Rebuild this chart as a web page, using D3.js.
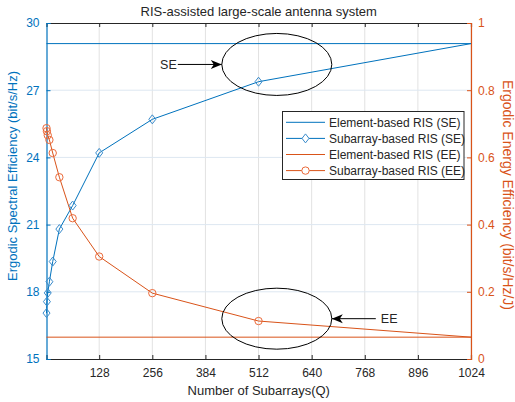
<!DOCTYPE html>
<html>
<head>
<meta charset="utf-8">
<script src="https://cdn.jsdelivr.net/npm/d3@7"></script>
<style>
  body { margin: 0; background: #fff; }
  svg text { font-family: "Liberation Sans", Arial, Helvetica, sans-serif; }
</style>
</head>
<body>
<div id="chart"></div>
<script>
// data
const subarrays = [1, 2, 4, 8, 16, 32, 64, 128, 256, 512, 1024];
const seSubarray = [17.05, 17.56, 17.95, 18.45, 19.35, 20.8, 21.85, 24.2, 25.7, 27.38, 29.08];
const eeSubarray = [0.687, 0.678, 0.666, 0.652, 0.613, 0.541, 0.419, 0.305, 0.196, 0.113, 0.065];
const elementQ = [1, 1024];
const seElement = [29.08, 29.08];
const eeElement = [0.065, 0.065];
const xTicks = [128, 256, 384, 512, 640, 768, 896, 1024];
const seTicks = [15, 18, 21, 24, 27, 30];
const eeTicks = [0, 0.2, 0.4, 0.6, 0.8, 1];

const width = 515, height = 402;
const margin = { top: 23, right: 44, bottom: 43, left: 46.5 };
const blue = '#0072BD', orange = '#D95319', dark = '#262626';

const svg = d3.select('#chart').append('svg')
    .attr('width', width)
    .attr('height', height);

const x = d3.scaleLinear().domain([1, 1024]).range([margin.left, width - margin.right]);
const yL = d3.scaleLinear().domain([15, 30]).range([height - margin.bottom, margin.top]);
const yR = d3.scaleLinear().domain([0, 1]).range([height - margin.bottom, margin.top]);

const x0 = margin.left, x1 = width - margin.right;
const y0 = height - margin.bottom, y1 = margin.top;

// grid
svg.append('g').selectAll('line').data(xTicks).enter().append('line')
    .attr('x1', d => x(d)).attr('x2', d => x(d))
    .attr('y1', y0).attr('y2', y1)
    .attr('stroke', '#e2e2e2').attr('stroke-width', 1);
svg.append('g').selectAll('line').data(seTicks.slice(1, -1)).enter().append('line')
    .attr('x1', x0).attr('x2', x1)
    .attr('y1', d => yL(d)).attr('y2', d => yL(d))
    .attr('stroke', '#dde7f1').attr('stroke-width', 1);

// axes
const xAxis = d3.axisBottom(x).tickValues(xTicks).tickSize(-4).tickPadding(9).tickFormat(d3.format('d'));
const xTop = d3.axisTop(x).tickValues(xTicks).tickSize(-4).tickFormat('');
const leftAxis = d3.axisLeft(yL).tickValues(seTicks).tickSize(-4).tickPadding(7);
const rightAxis = d3.axisRight(yR).tickValues(eeTicks).tickSize(-4).tickPadding(7)
    .tickFormat(d => d === 0 || d === 1 ? d3.format('d')(d) : d3.format('.1f')(d));

function styleAxis(g, color) {
    g.select('.domain').attr('stroke', color);
    g.selectAll('.tick line').attr('stroke', color);
    g.selectAll('.tick text').attr('fill', color).style('font-size', '12px');
}

svg.append('g').attr('transform', `translate(0,${y0})`).call(xAxis).call(g => styleAxis(g, dark));
svg.append('g').attr('transform', `translate(0,${y1})`).call(xTop).call(g => styleAxis(g, dark));
svg.append('g').attr('transform', `translate(${x0},0)`).call(leftAxis).call(g => styleAxis(g, blue));
svg.append('g').attr('transform', `translate(${x1},0)`).call(rightAxis).call(g => styleAxis(g, orange));
svg.selectAll('.domain').attr('stroke-width', 1.2);

// lines
const seLine = d3.line().x(d => x(d[0])).y(d => yL(d[1]));
const eeLine = d3.line().x(d => x(d[0])).y(d => yR(d[1]));

svg.append('path').datum(d3.zip(elementQ, seElement)).attr('d', seLine)
    .attr('fill', 'none').attr('stroke', blue).attr('stroke-width', 1);
svg.append('path').datum(d3.zip(subarrays, seSubarray)).attr('d', seLine)
    .attr('fill', 'none').attr('stroke', blue).attr('stroke-width', 1);
svg.append('path').datum(d3.zip(elementQ, eeElement)).attr('d', eeLine)
    .attr('fill', 'none').attr('stroke', orange).attr('stroke-width', 1);
svg.append('path').datum(d3.zip(subarrays, eeSubarray)).attr('d', eeLine)
    .attr('fill', 'none').attr('stroke', orange).attr('stroke-width', 1);

// markers (last point sits on the element-based line, drawn without marker)
const diamond = 'M0,-4.5L3.5,0L0,4.5L-3.5,0Z';
svg.append('g').selectAll('path').data(d3.zip(subarrays, seSubarray).slice(0, -1)).enter().append('path')
    .attr('d', diamond)
    .attr('transform', d => `translate(${x(d[0])},${yL(d[1])})`)
    .attr('fill', 'none').attr('stroke', '#3a8ccc').attr('stroke-width', 1);
svg.append('g').selectAll('circle').data(d3.zip(subarrays, eeSubarray).slice(0, -1)).enter().append('circle')
    .attr('cx', d => x(d[0])).attr('cy', d => yR(d[1])).attr('r', 3.7)
    .attr('fill', 'none').attr('stroke', '#eb6a3a').attr('stroke-width', 1);

// annotations
const arrowHead = 'M0,0L-11,-4.5L-8,0L-11,4.5Z';
function annotate(cq, cy, rx, ry, label, side) {
    svg.append('ellipse')
        .attr('cx', x(cq)).attr('cy', cy).attr('rx', rx).attr('ry', ry)
        .attr('fill', 'none').attr('stroke', '#000').attr('stroke-width', 1);
    const tip = side === 'left' ? x(cq) - rx : x(cq) + rx;
    const tail = side === 'left' ? tip - 44 : tip + 44;
    svg.append('line').attr('x1', tail).attr('x2', tip).attr('y1', cy).attr('y2', cy)
        .attr('stroke', '#000').attr('stroke-width', 1);
    svg.append('path').attr('d', arrowHead)
        .attr('transform', `translate(${tip},${cy}) rotate(${side === 'left' ? 0 : 180})`)
        .attr('fill', '#000');
    svg.append('text')
        .attr('x', side === 'left' ? tail - 1 : tail + 5).attr('y', cy + 4.5)
        .attr('text-anchor', side === 'left' ? 'end' : 'start')
        .style('font-size', '12.5px').attr('fill', dark)
        .text(label);
}
annotate(556, yL(28.15), 55, 31, 'SE', 'left');
annotate(556, yR(0.12), 55, 30.5, 'EE', 'right');

// legend
const legendItems = [
    { label: 'Element-based RIS (SE)', color: blue, marker: null },
    { label: 'Subarray-based RIS (SE)', color: blue, marker: 'diamond' },
    { label: 'Element-based RIS (EE)', color: orange, marker: null },
    { label: 'Subarray-based RIS (EE)', color: orange, marker: 'circle' }
];
const legend = svg.append('g').attr('transform', 'translate(282.5,111.5)');
legend.append('rect').attr('width', 181.5).attr('height', 68)
    .attr('fill', '#fff').attr('stroke', dark).attr('stroke-width', 1);
const rows = legend.selectAll('g').data(legendItems).enter().append('g')
    .attr('transform', (d, i) => `translate(0,${10.8 + i * 16.1})`);
rows.append('line').attr('x1', 3.5).attr('x2', 42.5)
    .attr('stroke', d => d.color).attr('stroke-width', 1);
rows.filter(d => d.marker === 'diamond').append('path').attr('d', diamond)
    .attr('transform', 'translate(23,0)').attr('fill', '#fff').attr('stroke', '#3a8ccc');
rows.filter(d => d.marker === 'circle').append('circle').attr('cx', 23).attr('r', 3.7)
    .attr('fill', '#fff').attr('stroke', '#eb6a3a');
rows.append('text').attr('x', 46.5).attr('y', 4.3)
    .style('font-size', '12px').attr('fill', dark)
    .text(d => d.label);

// titles
svg.append('text').attr('x', (x0 + x1) / 2).attr('y', 16)
    .attr('text-anchor', 'middle').style('font-size', '13px').attr('fill', dark)
    .text('RIS-assisted large-scale antenna system');
svg.append('text').attr('x', (x0 + x1) / 2).attr('y', 395)
    .attr('text-anchor', 'middle').style('font-size', '13px').attr('fill', dark)
    .text('Number of Subarrays(Q)');
svg.append('text')
    .attr('transform', 'translate(16.5,176) rotate(-90)')
    .attr('text-anchor', 'middle').style('font-size', '13px').attr('fill', blue)
    .text('Ergodic Spectral Efficiency (bit/s/Hz)');
svg.append('text')
    .attr('transform', 'translate(502.5,195) rotate(90)')
    .attr('text-anchor', 'middle').style('font-size', '14px').attr('fill', orange)
    .text('Ergodic Energy Efficiency (bit/s/Hz/J)');
</script>
</body>
</html>
